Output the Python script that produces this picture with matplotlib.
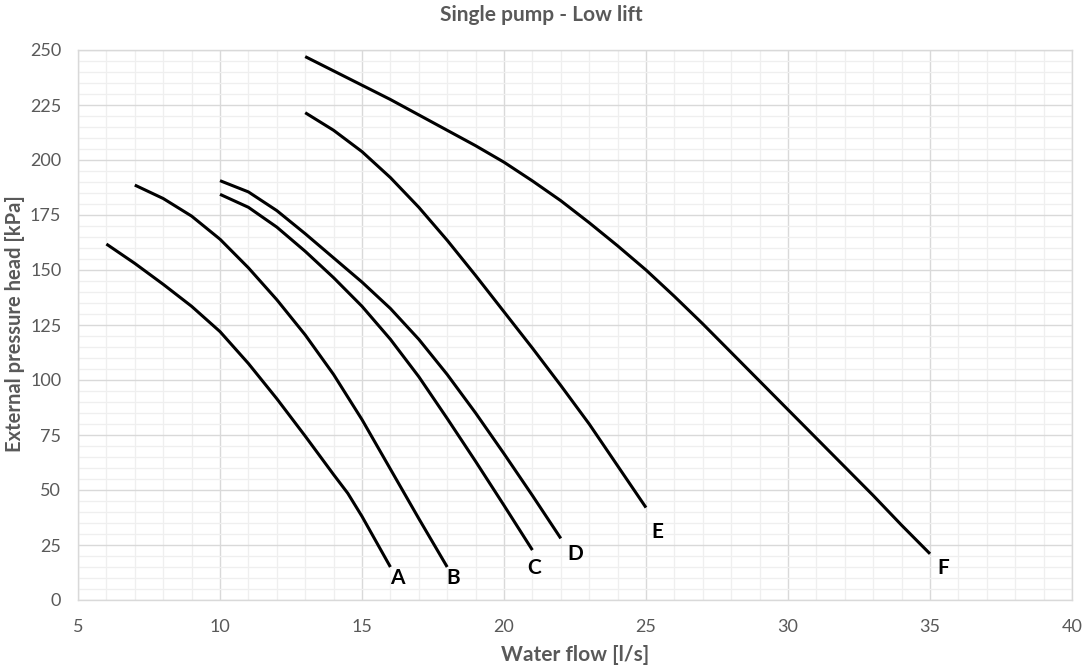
import matplotlib
matplotlib.use("Agg")
import matplotlib.pyplot as plt
from matplotlib.ticker import MultipleLocator

plt.rcParams['font.family'] = ['Lato', 'DejaVu Sans']

# Pump curves: water flow [l/s] vs external pressure head [kPa]
a_x = [6, 7, 8, 9, 10, 11, 12, 13, 14, 14.5, 15, 16]
a_y = [161.8, 153.0, 143.5, 133.5, 122.0, 107.5, 91.5, 74.5, 57.0, 48.5, 38.0, 15.0]
b_x = [7, 8, 9, 10, 11, 12, 13, 14, 15, 16, 17, 18]
b_y = [188.6, 182.5, 174.5, 164.0, 151.0, 136.5, 120.5, 102.5, 82.0, 59.5, 37.0, 15.0]
c_x = [10, 11, 12, 13, 14, 15, 16, 17, 18, 19, 20, 21]
c_y = [184.4, 178.5, 169.5, 158.5, 146.5, 133.5, 118.5, 101.5, 82.5, 63.0, 43.0, 22.7]
d_x = [10, 11, 12, 13, 14, 15, 16, 17, 18, 19, 20, 21, 22]
d_y = [190.6, 185.5, 177.0, 166.5, 155.5, 144.5, 132.5, 118.5, 102.5, 85.0, 66.5, 47.5, 28.0]
e_x = [13, 14, 15, 16, 17, 18, 19, 20, 21, 22, 23, 24, 25]
e_y = [221.5, 213.5, 203.8, 192.0, 178.5, 163.5, 147.5, 131.0, 114.5, 97.5, 80.0, 61.0, 42.0]
f_x = [13, 14, 15, 16, 17, 18, 19, 20, 21, 22, 23, 24, 25, 26, 27, 28, 29, 30, 31, 32, 33, 34, 35]
f_y = [247.0, 240.5, 234.0, 227.5, 220.5, 213.5, 206.5, 199.0, 190.5, 181.5, 171.5, 161.0,
       150.0, 138.0, 125.5, 112.5, 99.5, 86.5, 73.5, 60.5, 47.5, 34.0, 21.0]

labels = ['A', 'B', 'C', 'D', 'E', 'F']
label_x = [16.23, 18.2, 21.06, 22.5, 25.4, 35.45]
label_y = [10.0, 10.0, 14.5, 21.0, 31.0, 14.5]

xticks = [5, 10, 15, 20, 25, 30, 35, 40]
yticks = [0, 25, 50, 75, 100, 125, 150, 175, 200, 225, 250]

fig = plt.figure(figsize=(10.83, 6.70), dpi=100)
ax = fig.add_axes([78/1083, 1 - 600/670, (1072-78)/1083, (600-50)/670])

for xs, ys in [(a_x, a_y), (b_x, b_y), (c_x, c_y), (d_x, d_y), (e_x, e_y), (f_x, f_y)]:
    ax.plot(xs, ys, color='black', lw=2.2, solid_capstyle='butt',
            solid_joinstyle='round', zorder=3)

for t, lx, ly in zip(labels, label_x, label_y):
    ax.text(lx, ly, t, fontsize=15, fontweight='bold', color='black',
            ha='center', va='center', zorder=4)

ax.set_xlim(5, 40)
ax.set_ylim(0, 250)
ax.set_xticks(xticks)
ax.set_yticks(yticks)
ax.xaxis.set_minor_locator(MultipleLocator(1))
ax.yaxis.set_minor_locator(MultipleLocator(5))
ax.grid(which='major', color='#d9d9d9', lw=1.0, zorder=0)
ax.grid(which='minor', color='#efefef', lw=0.9, zorder=0)
for s in ax.spines.values():
    s.set_color('#d9d9d9')
    s.set_linewidth(1.0)
ax.tick_params(which='both', length=0)
ax.tick_params(axis='both', labelsize=13, labelcolor='#595959')
ax.tick_params(axis='x', pad=14)
ax.tick_params(axis='y', pad=12)

ax.set_xlabel('Water flow [l/s]', fontsize=15, fontweight='bold', color='#595959', labelpad=7)
fig.text(15/1083, 1 - 324/670, 'External pressure head [kPa]', fontsize=14.5, fontweight='bold',
         color='#595959', ha='center', va='center', rotation=90)
fig.text(0.5, 1 - 15/670, 'Single pump - Low lift', fontsize=15, fontweight='bold',
         color='#595959', ha='center', va='center')

fig.savefig('out.png', dpi=100, facecolor='white')
